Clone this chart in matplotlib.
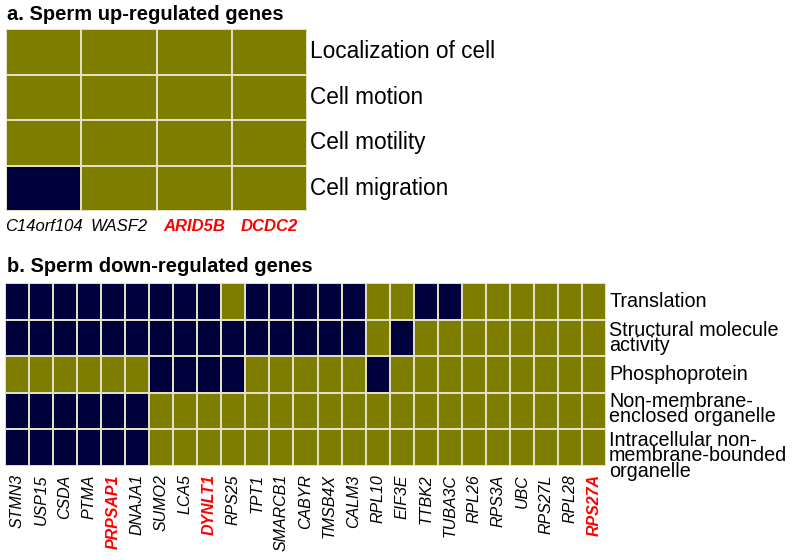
import numpy as np
import matplotlib
matplotlib.use("Agg")
import matplotlib.pyplot as plt
import matplotlib.transforms as mtransforms
from matplotlib.colors import ListedColormap

plt.rcParams['font.family'] = ['Liberation Sans', 'DejaVu Sans']

# %% Data (1 = gene annotated with term)
up_genes = ["C14orf104", "WASF2", "ARID5B", "DCDC2"]
up_red = ["ARID5B", "DCDC2"]
up_terms = ["Localization of cell", "Cell motion", "Cell motility", "Cell migration"]
up_matrix = [
    [0, 0, 0, 0],
    [0, 0, 0, 0],
    [0, 0, 0, 0],
    [1, 0, 0, 0],
]

down_genes = ["STMN3", "USP15", "CSDA", "PTMA", "PRPSAP1", "DNAJA1", "SUMO2", "LCA5",
              "DYNLT1", "RPS25", "TPT1", "SMARCB1", "CABYR", "TMSB4X", "CALM3", "RPL10",
              "EIF3E", "TTBK2", "TUBA3C", "RPL26", "RPS3A", "UBC", "RPS27L", "RPL28", "RPS27A"]
down_red = ["PRPSAP1", "DYNLT1", "RPS27A"]
down_terms = ["Translation", "Structural molecule\nactivity", "Phosphoprotein",
              "Non-membrane-\nenclosed organelle",
              "Intracellular non-\nmembrane-bounded\norganelle"]
down_matrix = [
    [1, 1, 1, 1, 1, 1, 1, 1, 1, 0, 1, 1, 1, 1, 1, 0, 0, 1, 1, 0, 0, 0, 0, 0, 0],
    [1, 1, 1, 1, 1, 1, 1, 1, 1, 1, 1, 1, 1, 1, 1, 0, 1, 0, 0, 0, 0, 0, 0, 0, 0],
    [0, 0, 0, 0, 0, 0, 1, 1, 1, 1, 0, 0, 0, 0, 0, 1, 0, 0, 0, 0, 0, 0, 0, 0, 0],
    [1, 1, 1, 1, 1, 1, 0, 0, 0, 0, 0, 0, 0, 0, 0, 0, 0, 0, 0, 0, 0, 0, 0, 0, 0],
    [1, 1, 1, 1, 1, 1, 0, 0, 0, 0, 0, 0, 0, 0, 0, 0, 0, 0, 0, 0, 0, 0, 0, 0, 0],
]

olive = "#7f7d00"
navy = "#00003c"
grid = "#e2dfc2"
cmap = ListedColormap([olive, navy])

W, H = 792, 560
fig = plt.figure(figsize=(W / 100, H / 100), dpi=100)


def px_axes(x0, y0, x1, y1):
    return fig.add_axes([x0 / W, 1 - y1 / H, (x1 - x0) / W, (y1 - y0) / H])


def heat(ax, mat, terms, term_fs, term_ls, shifts):
    mat = np.array(mat)
    ax.pcolormesh(mat, cmap=cmap, vmin=0, vmax=1, edgecolors=grid, linewidth=1.2)
    ax.set_xlim(0, mat.shape[1])
    ax.set_ylim(mat.shape[0], 0)
    for s in ax.spines.values():
        s.set_visible(False)
    ax.set_yticks([])
    ax.tick_params(axis='x', length=0)
    trans = mtransforms.blended_transform_factory(ax.transAxes, ax.transData)
    for i, t in enumerate(terms):
        off = mtransforms.offset_copy(trans, fig=fig, x=3, y=-shifts[i], units='dots')
        ax.text(1.0, i + 0.5, t, transform=off, fontsize=term_fs,
                linespacing=term_ls, va='center', ha='left')


# %% a. up-regulated
ax1 = px_axes(6, 29, 307, 211)
heat(ax1, up_matrix, up_terms, 16.3, 1.0, [0, 0, 0, 0])
ax1.set_xticks(np.arange(len(up_genes)) + 0.5)
ax1.set_xticklabels(up_genes, fontsize=12, style='italic')
ax1.tick_params(axis='x', pad=6)
for lbl in ax1.get_xticklabels():
    if lbl.get_text() in up_red:
        lbl.set_color('red')
        lbl.set_fontweight('bold')
fig.text(7 / W, 1 - 14 / H, "a. Sperm up-regulated genes", fontsize=14.5,
         fontweight='bold', va='center', ha='left')

# %% b. down-regulated
ax2 = px_axes(5, 283, 606, 466)
heat(ax2, down_matrix, down_terms, 14.2, 0.78, [0, 0, 0, -2, 8])
ax2.set_xticks(np.arange(len(down_genes)) + 0.5)
ax2.set_xticklabels(down_genes, fontsize=11.5, style='italic', rotation=90)
ax2.tick_params(axis='x', pad=6)
for lbl in ax2.get_xticklabels():
    if lbl.get_text() in down_red:
        lbl.set_color('red')
        lbl.set_fontweight('bold')
fig.text(7 / W, 1 - 266 / H, "b. Sperm down-regulated genes", fontsize=14.5,
         fontweight='bold', va='center', ha='left')

fig.savefig("out.png", dpi=100, facecolor='white')
